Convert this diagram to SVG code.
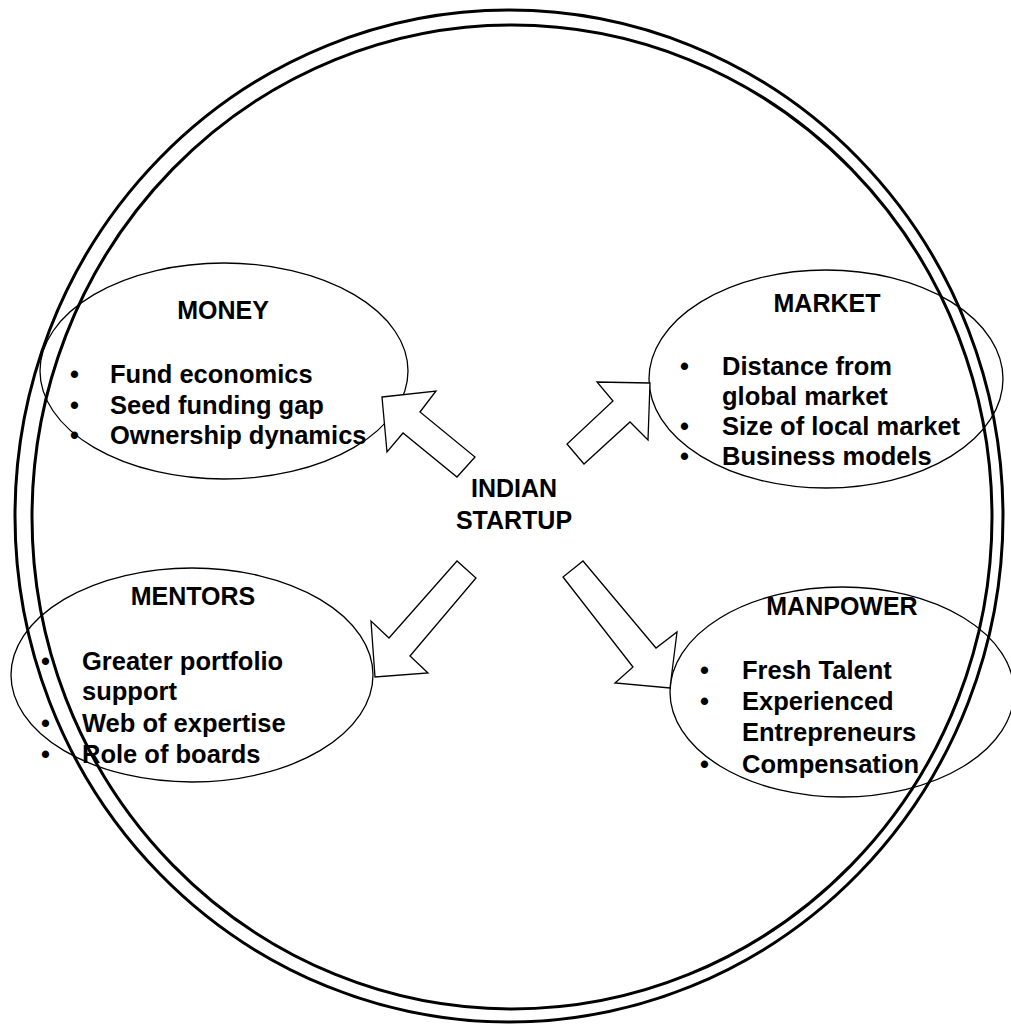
<svg xmlns="http://www.w3.org/2000/svg" width="1011" height="1025" viewBox="0 0 1011 1025">
<style>
.ring{fill:none;stroke:#000;stroke-width:3}
.node{fill:none;stroke:#000;stroke-width:1.3}
.arr{fill:#fff;stroke:#000;stroke-width:1.3;stroke-linejoin:miter}
text{font-family:"Liberation Sans",Arial,Helvetica,sans-serif;font-weight:bold;font-size:25.5px;fill:#000}
.h{text-anchor:middle;font-size:25px}
</style>
<rect width="1011" height="1025" fill="#fff"/>
<g id="frame">
<ellipse class="ring" cx="509" cy="516" rx="494" ry="506"/>
<ellipse class="ring" cx="512" cy="517" rx="480" ry="492"/>
</g>
<g id="money">
<ellipse class="node" cx="224" cy="371" rx="184" ry="108"/>
<text class="h" x="223" y="319">MONEY</text>
<text x="70" y="383">•</text><text x="110" y="383">Fund economics</text>
<text x="70" y="414">•</text><text x="110" y="414">Seed funding gap</text>
<text x="70" y="444">•</text><text x="110" y="444">Ownership dynamics</text>
</g>
<g id="market">
<ellipse class="node" cx="826" cy="379" rx="177" ry="109"/>
<text class="h" x="827" y="312">MARKET</text>
<text x="680" y="375">•</text><text x="722" y="375">Distance from</text>
<text x="722" y="405">global market</text>
<text x="680" y="435">•</text><text x="722" y="435">Size of local market</text>
<text x="680" y="465">•</text><text x="722" y="465">Business models</text>
</g>
<g id="mentors">
<ellipse class="node" cx="192" cy="675" rx="181" ry="107"/>
<text class="h" x="193" y="605">MENTORS</text>
<text x="41" y="670">•</text><text x="82" y="670">Greater portfolio</text>
<text x="82" y="700">support</text>
<text x="41" y="732">•</text><text x="82" y="732">Web of expertise</text>
<text x="41" y="763">•</text><text x="82" y="763">Role of boards</text>
</g>
<g id="manpower">
<ellipse class="node" cx="842" cy="692" rx="172" ry="105"/>
<text class="h" x="842" y="615">MANPOWER</text>
<text x="700" y="679">•</text><text x="742" y="679">Fresh Talent</text>
<text x="700" y="710">•</text><text x="742" y="710">Experienced</text>
<text x="742" y="741">Entrepreneurs</text>
<text x="700" y="773">•</text><text x="742" y="773">Compensation</text>
</g>
<g id="center">
<text class="h" x="514" y="497">INDIAN</text>
<text class="h" x="514" y="529">STARTUP</text>
</g>
<g id="connectors">
<polygon class="arr" points="382,397 436,391 420,412 475,457 457,477 403,433 387,452"/>
<polygon class="arr" points="650,383 597,382 613,401 567,444 584,464 630,422 648,440"/>
<polygon class="arr" points="375,677 371,621 389,638 457,561 476,578 410,656 428,673"/>
<polygon class="arr" points="670,688 677,632 656,648 583,561 563,577 633,667 615,683"/>
</g>
</svg>
